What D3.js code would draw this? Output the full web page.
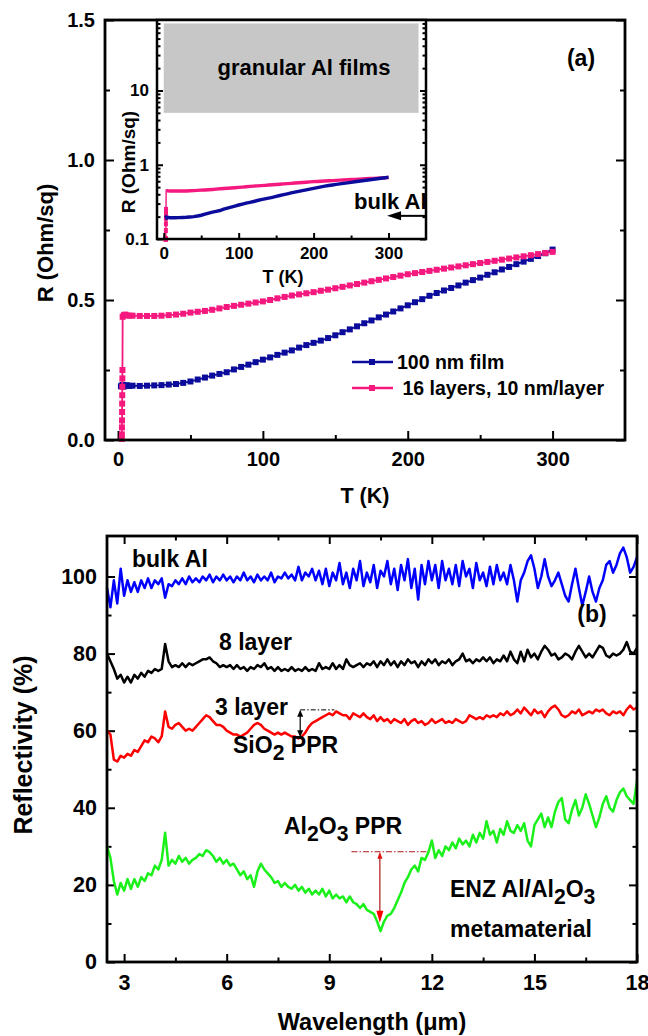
<!DOCTYPE html>
<html>
<head>
<meta charset="utf-8">
<script src="https://cdn.jsdelivr.net/npm/d3@7"></script>
<style>
  body { margin: 0; background: #fff; }
  text { font-family: "Liberation Sans", Arial, sans-serif; font-weight: bold; fill: #000; white-space: pre; }
</style>
</head>
<body>
<svg id="chart" width="648" height="1036"></svg>
<script>
// ---------- panel (a): sheet resistance vs temperature ----------
const tempFilm = [2, 3, 4, 6, 8, 10, 15, 20, 25, 30, 35, 40, 45, 50, 55, 60, 65, 70, 75, 80,
  85, 90, 95, 100, 105, 110, 115, 120, 125, 130, 135, 140, 145, 150, 155, 160, 165, 170, 175, 180,
  185, 190, 195, 200, 205, 210, 215, 220, 225, 230, 235, 240, 245, 250, 255, 260, 265, 270, 275, 280,
  285, 290, 295, 300];
const resFilm = [0.192, 0.197, 0.191, 0.196, 0.193, 0.194, 0.193, 0.194, 0.195, 0.196, 0.198, 0.200, 0.204, 0.209, 0.216, 0.223, 0.230, 0.236, 0.242, 0.252,
  0.261, 0.269, 0.278, 0.287, 0.295, 0.304, 0.312, 0.320, 0.330, 0.339, 0.347, 0.355, 0.364, 0.374, 0.385, 0.395, 0.406, 0.417, 0.427, 0.438,
  0.448, 0.459, 0.470, 0.481, 0.492, 0.503, 0.515, 0.525, 0.534, 0.543, 0.552, 0.562, 0.571, 0.580, 0.590, 0.599, 0.609, 0.618, 0.628, 0.637,
  0.647, 0.657, 0.667, 0.680];

const tempLayers = [2.6, 2.65, 2.7, 2.75, 2.8, 2.85, 2.9, 2.95, 3.0, 3.05, 3.2, 4, 5, 6, 8, 10, 15, 20, 25, 30,
  35, 40, 45, 50, 55, 60, 65, 70, 75, 80, 85, 90, 95, 100, 105, 110, 115, 120, 125, 130,
  135, 140, 145, 150, 155, 160, 165, 170, 175, 180, 185, 190, 195, 200, 205, 210, 215, 220, 225, 230,
  235, 240, 245, 250, 255, 260, 265, 270, 275, 280, 285, 290, 295, 300];
const resLayers = [0.004, 0.02, 0.045, 0.07, 0.1, 0.13, 0.16, 0.19, 0.22, 0.25, 0.44, 0.446, 0.448, 0.445, 0.444, 0.444, 0.443, 0.443, 0.443, 0.444,
  0.446, 0.448, 0.451, 0.455, 0.458, 0.461, 0.465, 0.470, 0.475, 0.479, 0.483, 0.487, 0.491, 0.495, 0.500, 0.506, 0.511, 0.516, 0.520, 0.524,
  0.528, 0.533, 0.537, 0.542, 0.547, 0.552, 0.557, 0.562, 0.567, 0.572, 0.577, 0.582, 0.587, 0.592, 0.596, 0.600, 0.604, 0.608, 0.612, 0.616,
  0.620, 0.624, 0.628, 0.632, 0.636, 0.640, 0.644, 0.648, 0.652, 0.656, 0.660, 0.664, 0.668, 0.672];

const seriesNamesA = ["100 nm film", " 16 layers, 10 nm/layer"];
const granularT = [0, 340];
const granularR = [5, 80];
const bulkAlR = 0.205;

// ---------- panel (b): reflectivity spectra ----------
const wavelength = d3.range(156).map(i => +(2.5 + i * 0.1).toFixed(1));
const bulkAl = [97, 92, 99, 93, 102, 95, 99, 96, 98.5, 96,
  99, 97, 99.5, 97, 99, 98, 99.5, 94.5, 98, 97.5,
  99, 98, 99.5, 98, 100, 98.5, 99.5, 98.5, 100, 99,
  100.5, 98.5, 100, 99, 100.5, 99, 100, 98.5, 100, 99,
  101, 99, 100, 98.5, 100.5, 99, 100, 99, 101, 98.5,
  100, 99.5, 101, 99.5, 100.5, 99, 102.5, 99, 101, 100,
  102, 99, 101.5, 98, 102, 97.5, 101, 99, 103.5, 98,
  101, 97, 102, 99, 104, 97.5, 101, 98.5, 103, 97,
  101.5, 100, 104, 98, 102, 96.5, 103, 99, 104.5, 97,
  102, 94, 103, 98, 104, 99, 103, 97, 104, 99,
  102, 98, 103, 97.5, 104, 100, 102, 97, 103.5, 99,
  101, 97.5, 102.5, 98, 103, 99, 101, 98, 103, 99,
  93.5, 99, 101, 104, 105.5, 102, 97, 100, 104.5, 100,
  97.5, 99, 101, 98, 95, 93.5, 98, 102, 97, 92.5,
  96, 100, 96, 93.5, 97, 99, 103, 104, 101, 103,
  106, 107.5, 105, 101, 102.5, 105];
const layer8 = [80, 78, 76, 73.5, 74.5, 72.5, 74, 72.5, 74.5, 73.5,
  75, 74, 75.5, 75, 76, 75.5, 76, 82.5, 78, 76.5,
  77, 76.5, 77.5, 76.5, 77.5, 77, 77.5, 78, 78.5, 78.5,
  79, 78, 77.5, 76.5, 77, 76.5, 77, 76, 77, 76,
  76.5, 75.5, 76.5, 76, 77, 76.5, 77.5, 76, 76.5, 75.5,
  76.5, 75.5, 76, 75.5, 76.5, 75.5, 76, 75.5, 76.5, 75.5,
  76, 75.5, 77.5, 76, 76.5, 76, 77.5, 76, 77, 76,
  78.5, 77, 76.5, 77, 77.5, 76.5, 77.5, 77, 78, 76.5,
  78, 77, 78.5, 77, 78, 76.5, 78, 77, 78.5, 77.5,
  78, 76.5, 78, 77, 78.5, 77.5, 78.5, 77, 78, 77.5,
  78.5, 77, 78, 78.5, 80, 78, 78.5, 77.5, 78.5, 78,
  79, 78, 79, 77.5, 78.5, 78, 79.5, 78, 80.5, 78.5,
  77.5, 80.5, 78, 81, 79, 80, 78.5, 80.5, 82, 81,
  79.5, 80, 78.5, 79, 80, 79.5, 78.5, 80.5, 82, 80.5,
  79, 80, 79, 80.5, 82, 81.5, 79.5, 79, 80, 79.5,
  80, 81, 83, 80.5, 80, 81.5];
const layer3 = [60, 59, 52.5, 52, 53.5, 53, 54, 53.5, 55, 54.5,
  56, 57.5, 57, 58.5, 58, 57, 58.5, 65, 61, 60.5,
  61.5, 62, 61, 60, 60.5, 60, 61, 62, 63, 64,
  63.5, 62.5, 61.5, 61.5, 61, 60, 59.5, 59, 59, 58.5,
  59, 59.5, 60.5, 61.5, 62, 61.5, 60.5, 60, 59.5, 59,
  59.5, 59, 59.5, 59, 58.5, 58.5, 58, 58.5, 59.5, 61,
  62, 62.5, 63, 63.5, 64, 64.5, 64, 65, 64.5, 64,
  64, 63, 64.5, 64, 63.5, 64.5, 63.5, 63, 64, 62.5,
  63.5, 62.5, 63, 62, 63, 62.5, 62, 63, 61.5, 62.5,
  63, 62, 62.5, 61.5, 62, 63, 62, 62.5, 63, 62,
  62.5, 62, 63, 62.5, 62, 62.5, 64, 63.5, 63, 63.5,
  63, 64, 63.5, 64, 63.5, 64.5, 64, 65, 64, 64.5,
  65.5, 64.5, 66, 65, 64, 65.5, 64.5, 65, 63.5, 65,
  66, 66.5, 65.5, 64, 63.5, 64, 65, 64.5, 65.5, 64,
  64.5, 65, 64.5, 65.5, 65, 65.5, 64.5, 64, 65, 64.5,
  65, 64, 65.5, 66.5, 65.5, 66];
const enzMeta = [30, 27, 21, 17.5, 20.5, 18.5, 21.5, 19, 21.5, 19.5,
  22, 21, 23, 22.5, 25, 24, 26.5, 33.5, 25, 26.5,
  25.5, 27.5, 26, 27, 25.5, 26.5, 27, 28, 27.5, 29,
  28.5, 27.5, 26, 27, 25.5, 26.5, 25, 25.5, 24, 22.5,
  23.5, 21.5, 22.5, 19.5, 23.5, 25.5, 24, 23, 22, 20.5,
  21, 19.5, 20.5, 19.5, 19, 20, 18.5, 19.5, 18, 19,
  17.5, 18.5, 17.5, 19, 17, 18.5, 16.5, 17.5, 16.5, 17,
  15.5, 17, 15.5, 15, 14, 15, 13.5, 13, 12.5, 10.5,
  8, 10.5, 12, 12.5, 14, 16, 18, 20.5, 22, 24,
  25, 23.5, 27, 26.5, 28.5, 31.5, 27, 29, 27.5, 30,
  29, 31, 29.5, 32, 30.5, 31.5, 30, 33, 31, 33.5,
  32, 36.5, 33, 34, 31, 34.5, 33, 36.5, 34, 33.5,
  35.5, 34, 36, 31.5, 30, 35.5, 37, 38.5, 35, 37.5,
  35, 39, 41.5, 42.5, 37, 36, 39.5, 42, 38, 40,
  43.5, 41, 38, 35, 37.5, 41, 43, 40, 39, 42,
  44, 45, 43, 42, 41, 47];

// PPR markers (wavelength, reflectivity)
const sio2Ppr = { lambda: 8.15, top: 65.4, bottom: 58.3, end: 9.15 };
const al2o3Ppr = { lambda: 10.48, top: 28.6, bottom: 10.2, start: 9.65, end: 11.85 };

const filmColor = "#0c0c9c";
const layerColor = "#f5187e";

const svg = d3.select("#chart");

function addText(g, x, y, parts, size, anchor, rotate) {
  const t = g.append("text")
    .attr("x", x).attr("y", y)
    .attr("font-size", size)
    .attr("text-anchor", anchor || "start");
  if (rotate) t.attr("transform", `rotate(${rotate},${x},${y})`);
  let shifted = false;
  [].concat(parts).forEach(p => {
    const sub = typeof p === "object";
    const span = t.append("tspan").text(sub ? p.sub : p);
    if (sub) span.attr("font-size", size * 0.92);
    if (sub && !shifted) { span.attr("dy", size * 0.3); shifted = true; }
    else if (!sub && shifted) { span.attr("dy", -size * 0.3); shifted = false; }
  });
  return t;
}

function tickAxis(g, axis, values, size, padding, format, fontSize) {
  g.call(axis.tickValues(values).tickSizeInner(-size).tickSizeOuter(0)
      .tickPadding(padding).tickFormat(format))
    .attr("font-size", fontSize)
    .call(s => s.select(".domain").remove())
    .call(s => s.selectAll("line").attr("stroke", "#000").attr("stroke-width", 2));
}

function arrowHead(g, x, y, dir, len, half, color) {
  // dir: "left" | "up" | "down"
  let pts;
  if (dir === "left") pts = [[x, y], [x + len, y - half], [x + len, y + half]];
  else if (dir === "up") pts = [[x, y], [x - half, y + len], [x + half, y + len]];
  else pts = [[x, y], [x - half, y - len], [x + half, y - len]];
  g.append("polygon").attr("points", pts.map(p => p.join(",")).join(" ")).attr("fill", color);
}

// ================= panel (a) =================
const xA = d3.scaleLinear().domain([-9, 350]).range([105, 625]);
const yA = d3.scaleLinear().domain([0, 1.5]).range([440, 20]);
const gA = svg.append("g");

tickAxis(gA.append("g").attr("transform", "translate(105,0)"), d3.axisLeft(yA), [0, 0.5, 1.0, 1.5], 9, 10, d3.format(".1f"), 20);
tickAxis(gA.append("g").attr("transform", "translate(105,0)"), d3.axisLeft(yA), [0.25, 0.75, 1.25], 5, 10, () => "", 20);
tickAxis(gA.append("g").attr("transform", "translate(625,0)"), d3.axisRight(yA), [0, 0.5, 1.0, 1.5], 9, 10, () => "", 20);
tickAxis(gA.append("g").attr("transform", "translate(625,0)"), d3.axisRight(yA), [0.25, 0.75, 1.25], 5, 10, () => "", 20);
tickAxis(gA.append("g").attr("transform", "translate(0,440)"), d3.axisBottom(xA), [0, 100, 200, 300], 9, 12, d3.format("d"), 20);
tickAxis(gA.append("g").attr("transform", "translate(0,440)"), d3.axisBottom(xA), [50, 150, 250], 5, 12, () => "", 20);

const lineA = d3.line().x(d => xA(d[0])).y(d => yA(d[1]));
const filmPts = tempFilm.map((t, i) => [t, resFilm[i]]);
const layerPts = tempLayers.map((t, i) => [t, resLayers[i]]);

[[filmPts, filmColor], [layerPts, layerColor]].forEach(([pts, color]) => {
  gA.append("path").datum(pts).attr("d", lineA)
    .attr("fill", "none").attr("stroke", color).attr("stroke-width", 1.8);
  gA.append("g").selectAll("rect").data(pts).join("rect")
    .attr("x", d => xA(d[0]) - 3).attr("y", d => yA(d[1]) - 3)
    .attr("width", 6).attr("height", 6).attr("fill", color);
});

gA.append("rect").attr("x", 105).attr("y", 20).attr("width", 520).attr("height", 420)
  .attr("fill", "none").attr("stroke", "#000").attr("stroke-width", 2.8);

// legend
[[filmColor, 362], [layerColor, 388]].forEach(([color, y], i) => {
  gA.append("line").attr("x1", 352).attr("x2", 393).attr("y1", y).attr("y2", y)
    .attr("stroke", color).attr("stroke-width", 2.5);
  gA.append("rect").attr("x", 369).attr("y", y - 3).attr("width", 6).attr("height", 6).attr("fill", color);
  addText(gA, 397, y + 7, seriesNamesA[i], 19.5, "start");
});

addText(gA, 581, 66, "(a)", 23, "middle");
addText(gA, 53, 243, "R (Ohm/sq)", 22, "middle", -90);
addText(gA, 365, 503, "T (K)", 21.5, "middle");

// ---------- inset ----------
const xI = d3.scaleLinear().domain([-9, 350]).range([157, 426]);
const yI = d3.scaleLog().domain([0.1, 89]).range([239, 20]);
const gI = svg.append("g");

gI.append("rect").attr("x", 157).attr("y", 20).attr("width", 269).attr("height", 219).attr("fill", "#fff");
gI.append("rect")
  .attr("x", xI(granularT[0])).attr("y", yI(granularR[1]))
  .attr("width", xI(granularT[1]) - xI(granularT[0])).attr("height", yI(granularR[0]) - yI(granularR[1]))
  .attr("fill", "#c7c7c7");

const lineI = d3.line().x(d => xI(d[0])).y(d => yI(Math.max(d[1], 0.1)));
gI.append("path").datum(layerPts).attr("d", lineI)
  .attr("fill", "none").attr("stroke", layerColor).attr("stroke-width", 1.4);
gI.append("g").selectAll("rect").data(layerPts.filter(d => d[1] < 0.3)).join("rect")
  .attr("x", d => xI(d[0]) - 2).attr("y", d => yI(Math.max(d[1], 0.1)) - 2.5)
  .attr("width", 4).attr("height", 5).attr("fill", layerColor);
gI.append("path").datum(layerPts.filter(d => d[1] > 0.4)).attr("d", lineI)
  .attr("fill", "none").attr("stroke", layerColor).attr("stroke-width", 3.4);
gI.append("path").datum(filmPts).attr("d", lineI)
  .attr("fill", "none").attr("stroke", filmColor).attr("stroke-width", 3.4);

const majorLog = [0.1, 1, 10];
const minorLog = [2, 3, 4, 5, 6, 7, 8, 9].flatMap(m => [m * 0.1, m, m * 10]).filter(v => v < 89);
tickAxis(gI.append("g").attr("transform", "translate(157,0)"), d3.axisLeft(yI), majorLog, 6, 8, d => String(d), 17);
tickAxis(gI.append("g").attr("transform", "translate(157,0)"), d3.axisLeft(yI), minorLog, 3.5, 8, () => "", 17);
tickAxis(gI.append("g").attr("transform", "translate(426,0)"), d3.axisRight(yI), majorLog, 6, 8, () => "", 17);
tickAxis(gI.append("g").attr("transform", "translate(426,0)"), d3.axisRight(yI), minorLog, 3.5, 8, () => "", 17);
tickAxis(gI.append("g").attr("transform", "translate(0,239)"), d3.axisBottom(xI), [0, 100, 200, 300], 6, 8, d3.format("d"), 17);
tickAxis(gI.append("g").attr("transform", "translate(0,239)"), d3.axisBottom(xI), [50, 150, 250], 3.5, 8, () => "", 17);

gI.append("rect").attr("x", 157).attr("y", 20).attr("width", 269).attr("height", 219)
  .attr("fill", "none").attr("stroke", "#000").attr("stroke-width", 2.5);

addText(gI, 304, 75, "granular Al films", 22, "middle");
addText(gI, 354, 209, "bulk Al", 22, "start");
gI.append("line").attr("x1", xI(350)).attr("x2", xI(298) + 10).attr("y1", yI(bulkAlR)).attr("y2", yI(bulkAlR))
  .attr("stroke", "#000").attr("stroke-width", 2);
arrowHead(gI, xI(298), yI(bulkAlR), "left", 14, 4.5, "#000");
addText(gI, 135, 162, "R (Ohm/sq)", 19, "middle", -90);
addText(gI, 283, 283, "T (K)", 18, "middle");

// ================= panel (b) =================
const xB = d3.scaleLinear().domain([2.5, 18]).range([107, 637]);
const yB = d3.scaleLinear().domain([0, 110.5]).range([962, 536]);
const gB = svg.append("g");

const majorWl = [3, 6, 9, 12, 15, 18];
const minorWl = [4.5, 7.5, 10.5, 13.5, 16.5];
const majorR = [0, 20, 40, 60, 80, 100];
const minorR = [10, 30, 50, 70, 90];
tickAxis(gB.append("g").attr("transform", "translate(107,0)"), d3.axisLeft(yB), majorR, 8, 10, d3.format("d"), 21.5);
tickAxis(gB.append("g").attr("transform", "translate(107,0)"), d3.axisLeft(yB), minorR, 4.5, 10, () => "", 21.5);
tickAxis(gB.append("g").attr("transform", "translate(637,0)"), d3.axisRight(yB), majorR, 8, 10, () => "", 21.5);
tickAxis(gB.append("g").attr("transform", "translate(637,0)"), d3.axisRight(yB), minorR, 4.5, 10, () => "", 21.5);
tickAxis(gB.append("g").attr("transform", "translate(0,962)"), d3.axisBottom(xB), majorWl, 8, 13, d3.format("d"), 21.5);
tickAxis(gB.append("g").attr("transform", "translate(0,962)"), d3.axisBottom(xB), minorWl, 4.5, 13, () => "", 21.5);
tickAxis(gB.append("g").attr("transform", "translate(0,536)"), d3.axisTop(xB), majorWl, 8, 10, () => "", 21.5);
tickAxis(gB.append("g").attr("transform", "translate(0,536)"), d3.axisTop(xB), minorWl, 4.5, 10, () => "", 21.5);

const lineB = d3.line().x((d, i) => xB(wavelength[i])).y(d => yB(d));
[[bulkAl, "#0000ff"], [layer8, "#000000"], [layer3, "#ff0000"], [enzMeta, "#1af01a"]].forEach(([vals, color]) => {
  gB.append("path").datum(vals).attr("d", lineB)
    .attr("fill", "none").attr("stroke", color).attr("stroke-width", 2.5).attr("stroke-linejoin", "round");
});

gB.append("rect").attr("x", 107).attr("y", 536).attr("width", 530).attr("height", 426)
  .attr("fill", "none").attr("stroke", "#000").attr("stroke-width", 2.8);

// SiO2 PPR marker
gB.append("line")
  .attr("x1", xB(sio2Ppr.lambda)).attr("x2", xB(sio2Ppr.end))
  .attr("y1", yB(sio2Ppr.top)).attr("y2", yB(sio2Ppr.top))
  .attr("stroke", "#000").attr("stroke-width", 1).attr("stroke-dasharray", "5,2,1.5,2");
gB.append("line")
  .attr("x1", xB(sio2Ppr.lambda)).attr("x2", xB(sio2Ppr.lambda))
  .attr("y1", yB(sio2Ppr.top) + 4).attr("y2", yB(sio2Ppr.bottom) - 4)
  .attr("stroke", "#000").attr("stroke-width", 1.2);
arrowHead(gB, xB(sio2Ppr.lambda), yB(sio2Ppr.top), "up", 7, 3, "#000");
arrowHead(gB, xB(sio2Ppr.lambda), yB(sio2Ppr.bottom), "down", 7, 3, "#000");

// Al2O3 PPR marker
gB.append("line")
  .attr("x1", xB(al2o3Ppr.start)).attr("x2", xB(al2o3Ppr.end))
  .attr("y1", yB(al2o3Ppr.top)).attr("y2", yB(al2o3Ppr.top))
  .attr("stroke", "#b01818").attr("stroke-width", 1.2).attr("stroke-dasharray", "6,2,1.5,2");
gB.append("line")
  .attr("x1", xB(al2o3Ppr.lambda)).attr("x2", xB(al2o3Ppr.lambda))
  .attr("y1", yB(al2o3Ppr.top) + 4).attr("y2", yB(al2o3Ppr.bottom) - 8)
  .attr("stroke", "#b01818").attr("stroke-width", 1.2);
arrowHead(gB, xB(al2o3Ppr.lambda), yB(al2o3Ppr.top), "up", 7, 2.5, "#e01010");
arrowHead(gB, xB(al2o3Ppr.lambda), yB(al2o3Ppr.bottom), "down", 12, 3.5, "#ff0000");

addText(gB, 132, 567, "bulk Al", 23, "start");
addText(gB, 592, 622, "(b)", 23, "middle");
addText(gB, 219, 650, "8 layer", 23, "start");
addText(gB, 215, 715, "3 layer", 23, "start");
addText(gB, 233, 753, ["SiO", { sub: "2" }, " PPR"], 23, "start");
addText(gB, 284, 834, ["Al", { sub: "2" }, "O", { sub: "3" }, " PPR"], 23, "start");
addText(gB, 450, 897, ["ENZ Al/Al", { sub: "2" }, "O", { sub: "3" }], 23, "start");
addText(gB, 450, 937, "metamaterial", 23, "start");

addText(gB, 32, 745, "Reflectivity (%)", 25, "middle", -90);
addText(gB, 372, 1030, "Wavelength (\u03bcm)", 23.5, "middle");
</script>
</body>
</html>
